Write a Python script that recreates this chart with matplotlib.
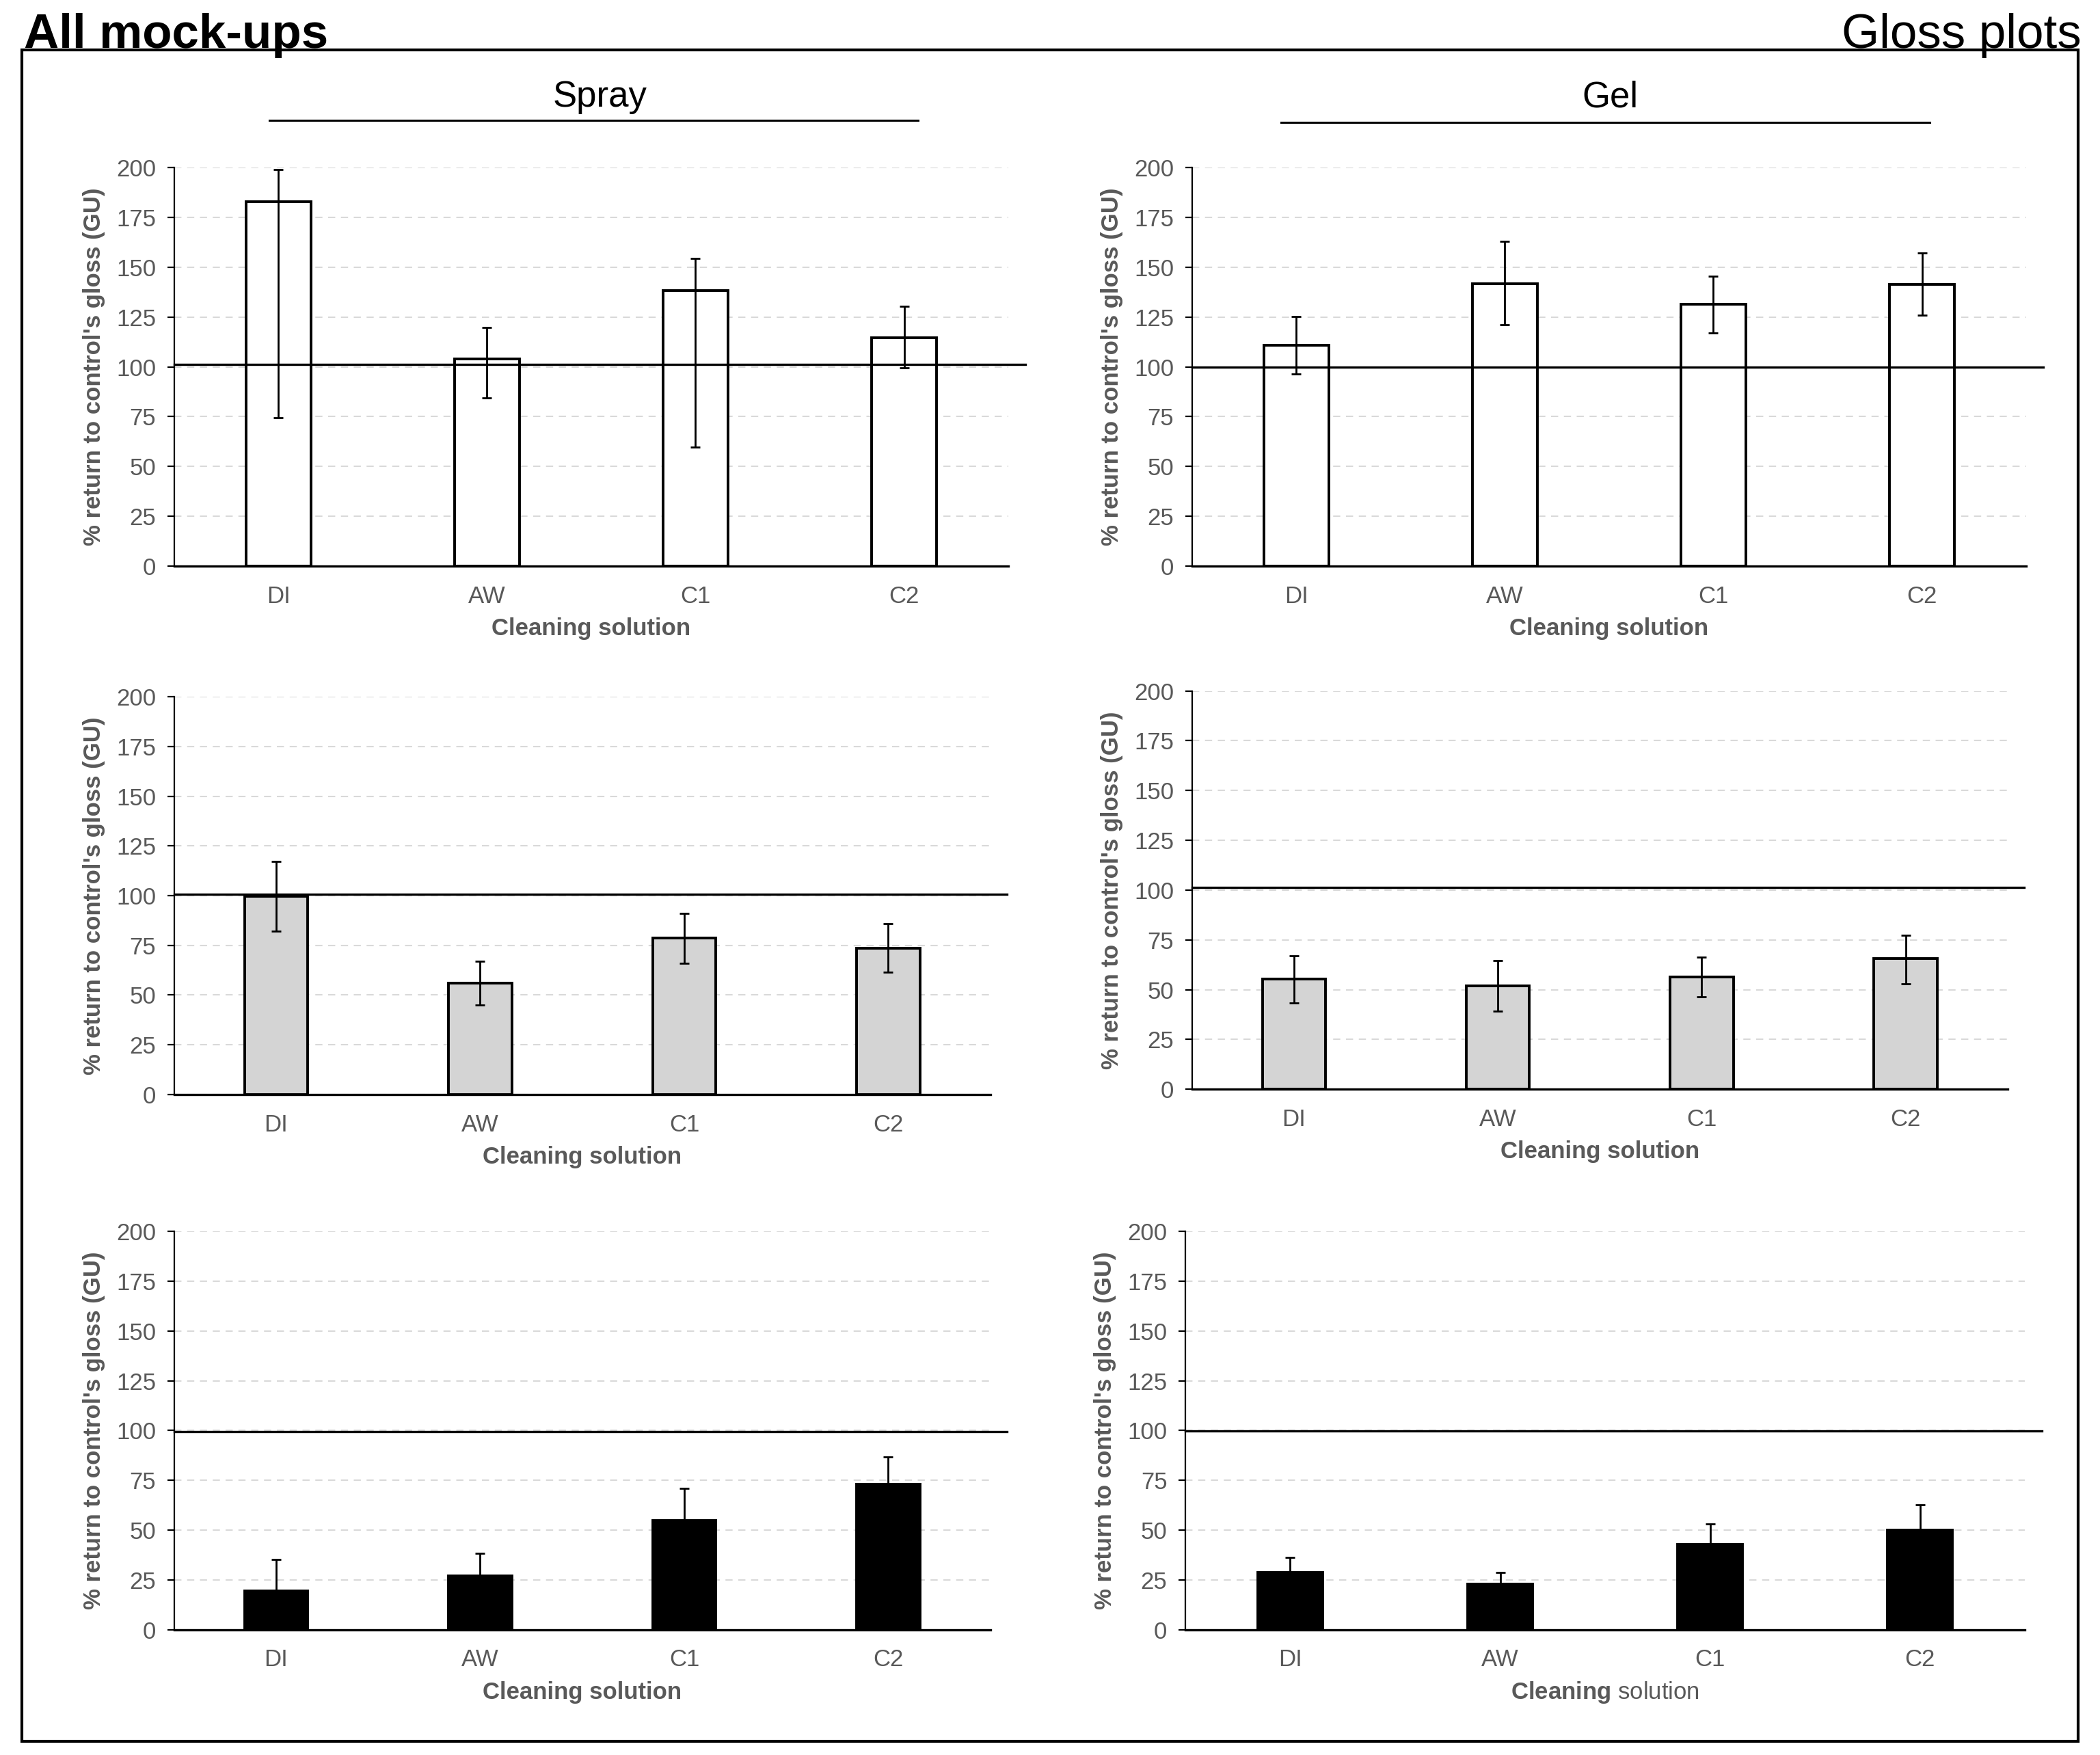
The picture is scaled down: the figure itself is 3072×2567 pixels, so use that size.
import matplotlib
matplotlib.use("Agg")
import matplotlib.pyplot as plt
from matplotlib.lines import Line2D
from matplotlib.patches import Rectangle
import numpy as np

plt.rcParams["font.family"] = ["Liberation Sans", "DejaVu Sans"]
plt.rcParams["mathtext.fontset"] = "custom"
plt.rcParams["mathtext.rm"] = "Liberation Sans"
plt.rcParams["mathtext.bf"] = "Liberation Sans:bold"

categories = ["DI", "AW", "C1", "C2"]

# spray, white bars
spray_white = [183.0, 104.0, 138.5, 114.5]
spray_white_lo = [74.4, 84.3, 59.7, 99.5]
spray_white_hi = [199.2, 119.7, 154.4, 130.4]

# gel, white bars
gel_white = [111.0, 141.7, 131.4, 141.3]
gel_white_lo = [96.3, 121.1, 116.9, 126.0]
gel_white_hi = [125.3, 163.2, 145.7, 157.3]

# spray, grey bars
spray_grey = [99.6, 56.0, 78.8, 73.5]
spray_grey_lo = [82.1, 44.9, 66.0, 61.6]
spray_grey_hi = [117.0, 67.0, 91.1, 85.8]

# gel, grey bars
gel_grey = [55.3, 52.0, 56.4, 65.7]
gel_grey_lo = [43.4, 39.2, 46.6, 52.9]
gel_grey_hi = [67.2, 64.8, 66.4, 77.4]

# spray, black bars (lower whiskers hidden inside the bars)
spray_black = [19.6, 27.2, 54.9, 73.1]
spray_black_lo = [4.0, 16.0, 39.0, 60.0]
spray_black_hi = [35.3, 38.2, 71.0, 86.7]

# gel, black bars
gel_black = [28.6, 22.8, 42.9, 50.2]
gel_black_lo = [21.0, 17.0, 33.0, 38.0]
gel_black_hi = [36.2, 28.6, 53.0, 62.7]

# control reference line (drawn by hand in the original, sits near 100)
ref_levels = [101.2, 100.0, 100.7, 101.2, 99.6, 99.8]

yticks = [0, 25, 50, 75, 100, 125, 150, 175, 200]

panels = [
    (spray_white, spray_white_lo, spray_white_hi, "white", [0.0829, 0.6775, 0.3973, 0.2269]),
    (gel_white, gel_white_lo, gel_white_hi, "white", [0.5676, 0.6775, 0.3973, 0.2269]),
    (spray_grey, spray_grey_lo, spray_grey_hi, "#d4d4d4", [0.0829, 0.3764, 0.3887, 0.2266]),
    (gel_grey, gel_grey_lo, gel_grey_hi, "#d4d4d4", [0.5676, 0.3793, 0.3884, 0.2270]),
    (spray_black, spray_black_lo, spray_black_hi, "black", [0.0829, 0.0714, 0.3887, 0.2269]),
    (gel_black, gel_black_lo, gel_black_hi, "black", [0.5644, 0.0714, 0.3999, 0.2269]),
]

FIG_W, FIG_H = 30.72, 25.67
fig = plt.figure(figsize=(FIG_W, FIG_H), dpi=100)

tick_grey = "#595959"
x = np.arange(len(categories))

for i, (vals, lo, hi, fill, rect) in enumerate(panels):
    ax = fig.add_axes(rect)
    vals = np.array(vals)
    yerr = [vals - np.array(lo), np.array(hi) - vals]

    ax.bar(x, vals, width=0.31, color=fill, edgecolor="black", linewidth=2.8, zorder=3)
    ax.errorbar(x, vals, yerr=yerr, fmt="none", ecolor="black", elinewidth=2.0,
                capsize=5, capthick=2.0, zorder=4)
    ax.axhline(ref_levels[i], xmin=0, xmax=1.02, color="black", lw=2.4,
               clip_on=False, zorder=5)

    ax.set_xlim(-0.5, len(categories) - 0.5)
    ax.set_ylim(0, 200)
    ax.set_yticks(yticks)
    ax.set_xticks(x)
    ax.set_xticklabels(categories)
    ax.set_axisbelow(True)
    ax.yaxis.grid(True, color="#d9d9d9", linestyle=(0, (5, 4)), linewidth=1.5)

    for s in ("top", "right"):
        ax.spines[s].set_visible(False)
    ax.spines["left"].set_linewidth(1.6)
    ax.spines["bottom"].set_linewidth(2.4)

    ax.tick_params(axis="y", length=7, width=1.6, pad=12, labelsize=25,
                   labelcolor=tick_grey)
    ax.tick_params(axis="x", length=0, pad=20, labelsize=25, labelcolor=tick_grey)

    if i == 5:
        xlabel = r"$\mathbf{Cleaning}$ solution"
        ax.set_xlabel(xlabel, fontsize=25, color=tick_grey)
    else:
        ax.set_xlabel("Cleaning solution", fontsize=25, fontweight="bold",
                      color=tick_grey)
    ax.xaxis.set_label_coords(0.5, -0.157)
    ax.xaxis.label.set_va("center")

    ax.set_ylabel("% return to control's gloss (GU)", fontsize=25,
                  fontweight="bold", color=tick_grey)
    ax.yaxis.set_label_coords(-117 / (rect[2] * FIG_W * 100), 0.5)
    ax.yaxis.label.set_va("center")

# headers
fig.text(0.2855, 0.9392, "Spray", fontsize=38, ha="center", va="baseline")
fig.text(0.7666, 0.9392, "Gel", fontsize=38, ha="center", va="baseline")
fig.add_artist(Line2D([0.1283, 0.4372], [0.9314, 0.9314], color="black", lw=2.2,
                      transform=fig.transFigure))
fig.add_artist(Line2D([0.6100, 0.9189], [0.9303, 0.9303], color="black", lw=2.2,
                      transform=fig.transFigure))

# outer frame and titles
fig.add_artist(Rectangle((0.0104, 0.0078), 0.9792, 0.9636, fill=False,
                         edgecolor="black", lw=3, transform=fig.transFigure))
fig.text(0.0115, 0.9726, "All mock-ups", fontsize=51, fontweight="bold",
         ha="left", va="baseline")
fig.text(0.9910, 0.9726, "Gloss plots", fontsize=51, ha="right", va="baseline")

fig.savefig("out.png", dpi=100, facecolor="white")
